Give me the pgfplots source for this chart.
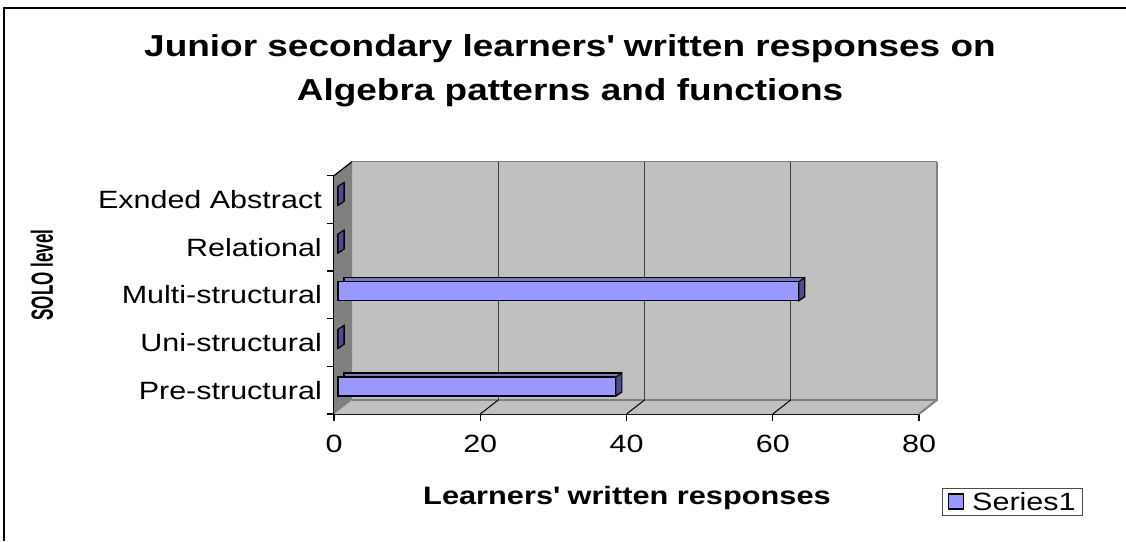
\documentclass[border=0pt]{standalone}
\usepackage{graphicx}
\usepackage{pgfplots}
\pgfplotsset{compat=1.18}
\usepackage{fontspec}
\setmainfont{Liberation Sans}[FakeStretch=1.22]
\newfontfamily\plainfont{Liberation Sans}
\definecolor{wallc}{HTML}{C0C0C0}
\definecolor{sidec}{HTML}{808080}
\definecolor{frontc}{HTML}{9999FF}
\definecolor{topc}{HTML}{7777CC}
\definecolor{endc}{HTML}{4D4D8C}
\pgfdeclareplotmark{endface}{%
  \pgfpathmoveto{\pgfpoint{0pt}{-5.9pt}}%
  \pgfpathlineto{\pgfpoint{6pt}{-1.9pt}}%
  \pgfpathlineto{\pgfpoint{6pt}{17.1pt}}%
  \pgfpathlineto{\pgfpoint{0pt}{13.1pt}}%
  \pgfpathclose
  \pgfusepathqfillstroke}
\pgfplotstableread{
cat val
0 38
1 0
2 63
3 0
4 0
}\solodata
\begin{document}
\begin{tikzpicture}
\path[use as bounding box] (0pt,0pt) rectangle (1126pt,541pt);
\draw[black, line width=1.5pt] (4pt,0pt) -- (4pt,533pt) -- (1126pt,533pt);
\node[anchor=base, font=\bfseries\fontsize{30.3}{36}\selectfont] at (570pt,484.3pt) {Junior secondary learners\textquotesingle{} written responses on};
\node[anchor=base, font=\bfseries\fontsize{30.3}{36}\selectfont] at (570pt,440pt) {Algebra patterns and functions};
\node[anchor=base, font=\bfseries\fontsize{25.2}{30}\selectfont] at (627pt,37pt) {Learners\textquotesingle{} written responses};
\node[rotate=90, font=\plainfont\bfseries\fontsize{17}{20}\selectfont] at (42pt,266pt) {\scalebox{1}[1.8]{SOLO level}};
\begin{axis}[
  at={(334pt,127pt)}, anchor=south west,
  scale only axis, width=585pt, height=238.3pt,
  xmin=0, xmax=80, ymin=-0.5, ymax=4.5,
  axis x line*=bottom, axis y line*=left,
  axis line style={black, line width=1.2pt, -},
  xtick={0,20,...,80},
  ytick={-0.5,0.5,...,4.5}, yticklabels={,,,,,},
  extra y ticks={0,1,2,3,4},
  extra y tick labels={Pre-structural,Uni-structural,Multi-structural,Relational,Exnded Abstract},
  extra y tick style={major tick length=0pt, yticklabel style={anchor=east, inner sep=0pt, xshift=-12pt}},
  tick align=outside,
  major tick length=7pt,
  tick style={black, line width=1.2pt},
  xticklabel style={anchor=north, inner sep=0pt, yshift=-14pt},
  /pgf/number format/assume math mode=true,
  ticklabel style={font=\fontsize{25}{29}\selectfont},
  clip=false,
  legend style={at={(axis description cs:1.16,-0.369)}, anchor=center, draw=black!70, line width=1pt, inner xsep=5pt, inner ysep=2pt, font=\fontsize{25}{29}\selectfont},
  legend image code/.code={\draw[fill=frontc, draw=black, line width=1.2pt] (0pt,-7pt) rectangle (15pt,8pt); \path[draw=none, fill=none] (0pt,0pt) -- (22pt,0pt);},
]
% back wall
\fill[wallc] ([shift={(18pt,14pt)}]axis cs:0,-0.5) rectangle ([shift={(18pt,14pt)}]axis cs:80,4.5);
% floor
\fill[wallc] (axis cs:0,-0.5) -- (axis cs:80,-0.5) -- ([shift={(18pt,14pt)}]axis cs:80,-0.5) -- ([shift={(18pt,14pt)}]axis cs:0,-0.5) -- cycle;
% left wall
\fill[sidec] (axis cs:0,-0.5) -- (axis cs:0,4.5) -- ([shift={(18pt,14pt)}]axis cs:0,4.5) -- ([shift={(18pt,14pt)}]axis cs:0,-0.5) -- cycle;
% borders
\draw[sidec, line width=2.5pt] ([shift={(18pt,14pt)}]axis cs:0,-0.5) -- ([shift={(18pt,14pt)}]axis cs:80,-0.5) -- ([shift={(18pt,14pt)}]axis cs:80,4.5);
\draw[sidec, line width=1pt] ([shift={(18pt,14pt)}]axis cs:0,4.5) -- ([shift={(18pt,14pt)}]axis cs:80,4.5);
\draw[sidec, line width=2pt] (axis cs:80,-0.5) -- ([shift={(18pt,14pt)}]axis cs:80,-0.5);
% grid lines
\draw[black!75, line width=1.2pt] ([shift={(18pt,14pt)}]axis cs:20,-0.5) -- ([shift={(18pt,14pt)}]axis cs:20,4.5);
\draw[black!75, line width=1.2pt] ([shift={(18pt,14pt)}]axis cs:40,-0.5) -- ([shift={(18pt,14pt)}]axis cs:40,4.5);
\draw[black!75, line width=1.2pt] ([shift={(18pt,14pt)}]axis cs:60,-0.5) -- ([shift={(18pt,14pt)}]axis cs:60,4.5);
\draw[black, line width=1pt] (axis cs:20,-0.5) -- ([shift={(18pt,14pt)}]axis cs:20,-0.5);
\draw[black, line width=1pt] (axis cs:40,-0.5) -- ([shift={(18pt,14pt)}]axis cs:40,-0.5);
\draw[black, line width=1pt] (axis cs:60,-0.5) -- ([shift={(18pt,14pt)}]axis cs:60,-0.5);
\draw[black, line width=1.2pt] (axis cs:0,4.5) -- ([shift={(18pt,14pt)}]axis cs:0,4.5);
% bars
\addplot[xbar, forget plot, bar width=19pt, bar shift=3.6pt, xshift=10pt, yshift=4pt, fill=topc, draw=black, line width=1.2pt] table[x=val, y=cat] {\solodata};
\addplot[xbar, bar width=19pt, bar shift=3.6pt, xshift=4pt, fill=frontc, draw=black, line width=1.2pt] table[x=val, y=cat] {\solodata};
\addplot[only marks, forget plot, mark=endface, xshift=4pt, mark options={fill=endc, draw=black, line width=1.2pt}] table[x=val, y=cat] {\solodata};
\legend{Series1}
\end{axis}
\end{tikzpicture}
\end{document}
